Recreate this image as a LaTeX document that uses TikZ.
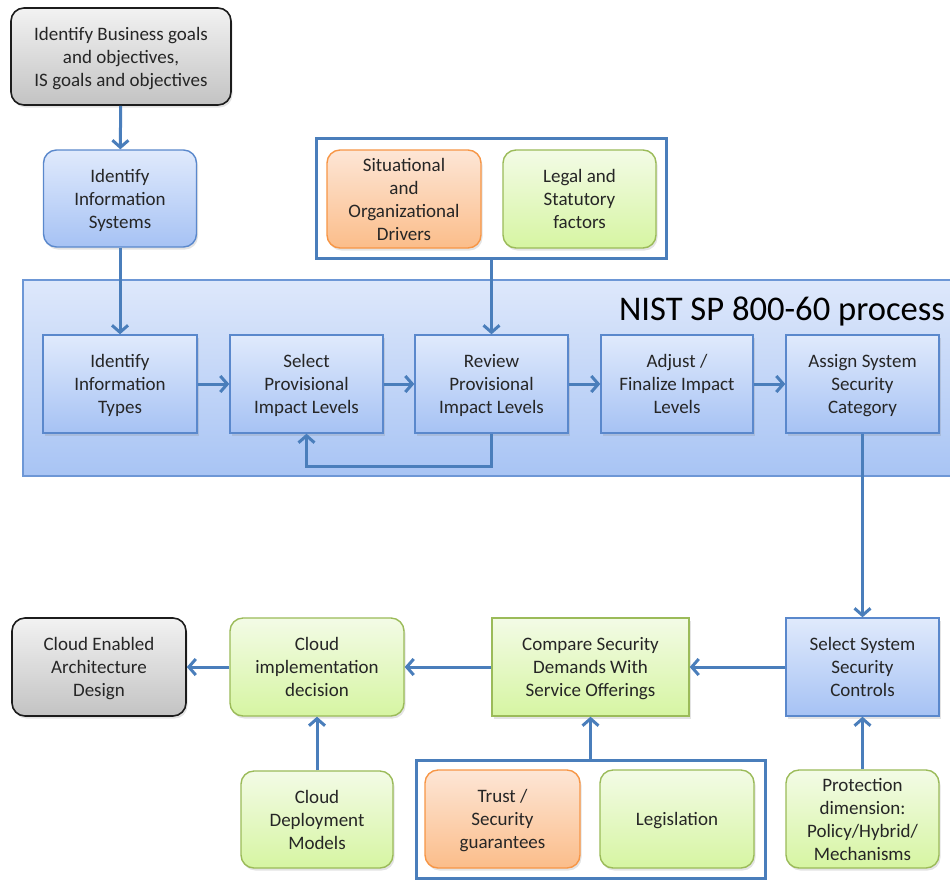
\documentclass[tikz,border=0pt]{standalone}
\usepackage{fontspec}
\setmainfont{Carlito}
\usetikzlibrary{arrows.meta,shadows}

\definecolor{txt}{HTML}{262626}
\definecolor{flowc}{HTML}{4A7EBB}
\definecolor{grayT}{HTML}{F2F2F2}
\definecolor{grayB}{HTML}{C3C3C3}
\definecolor{grayD}{HTML}{1C1C1C}
\definecolor{blueT}{HTML}{E0EAFC}
\definecolor{blueB}{HTML}{A6C2F4}
\definecolor{blueD}{HTML}{5A88CC}
\definecolor{orT}{HTML}{FDE6D6}
\definecolor{orB}{HTML}{FBBD8A}
\definecolor{orD}{HTML}{F79646}
\definecolor{grT}{HTML}{F3FBE6}
\definecolor{grB}{HTML}{D6F5A2}
\definecolor{grD}{HTML}{9BBB59}
\definecolor{bandT}{HTML}{DEE8FB}
\definecolor{bandB}{HTML}{A8C4F4}
\definecolor{bandD}{HTML}{6D97D6}

\tikzset{
  box/.style={inner sep=0pt,
    drop shadow={opacity=0.22, shadow xshift=1.5pt, shadow yshift=-2.5pt}},
  boxtext/.style={inner sep=0pt, text=txt, font=\fontsize{19}{23}\selectfont},
  graybox/.style={box, draw=grayD, line width=1.6pt, rounded corners=13pt,
    top color=grayT, bottom color=grayB},
  bluebox/.style={box, draw=blueD, line width=1.4pt, top color=blueT, bottom color=blueB},
  blueround/.style={bluebox, rounded corners=13pt},
  orangebox/.style={box, draw=orD, line width=1.4pt, rounded corners=13pt,
    top color=orT, bottom color=orB},
  greenbox/.style={box, draw=grD, line width=1.4pt, top color=grT, bottom color=grB},
  greenround/.style={greenbox, rounded corners=13pt},
  frame/.style={draw=flowc, line width=3pt, fill=white, inner sep=0pt},
  flow/.style={draw=flowc, line width=3pt,
    -{Straight Barb[length=7pt,width=16pt]}},
  sz/.style 2 args={minimum width=#1pt, minimum height=#2pt}
}

% a shaded box with its caption; the caption lines are strutted rows,
% so the block of lines is centred the same way in every box
% #1 style, #2 name, #3 centre, #4 width, #5 height, #6 caption
\newcommand\flowbox[6]{%
  \node[#1, sz={#4}{#5}] (#2) at (#3) {};
  \node[boxtext] (#2-text) at ([yshift=-2.3pt]#2.center)
    {\begin{tabular}{@{}c@{}}#6\end{tabular}};
}

\begin{document}
\begin{tikzpicture}[x=1pt,y=-1pt]
\clip (0,0) rectangle (950,879);
\fill[white] (0,0) rectangle (950,879);

% NIST process band
\node[draw=bandD, line width=1.2pt, top color=bandT, bottom color=bandB,
      inner sep=0pt, sz={960}{196}] (band) at (503,378) {};
\node[anchor=base east, text=black, font=\fontsize{34.6}{40}\selectfont] (title)
      at (948.5,320) {NIST SP 800-60 process};

% top column
\flowbox{graybox}{goals}{121,56.5}{220}{97}
  {Identify Business goals\\and objectives,\\IS goals and objectives}
\flowbox{blueround}{infosys}{120,198.5}{153}{97}
  {Identify\\Information\\Systems}

% drivers group
\node[frame, sz={350}{120}] (drivers) at (491.5,198) {};
\flowbox{orangebox}{situ}{404,199}{154}{98}
  {Situational\\and\\Organizational\\Drivers}
\flowbox{greenround}{legal}{579.5,199}{153}{98}
  {Legal and\\Statutory\\factors}

% process steps
\flowbox{bluebox}{types}{120,384}{154}{98}{Identify\\Information\\Types}
\flowbox{bluebox}{select}{306.5,384}{153}{98}{Select\\Provisional\\Impact Levels}
\flowbox{bluebox}{review}{491.5,384}{153}{98}{Review\\Provisional\\Impact Levels}
\flowbox{bluebox}{adjust}{677,384}{152}{98}{Adjust /\\Finalize Impact\\Levels}
\flowbox{bluebox}{assign}{862.5,384}{153}{98}{Assign System\\Security\\Category}

% bottom row
\flowbox{bluebox}{controls}{862.5,667}{153}{98}{Select System\\Security\\Controls}
\flowbox{greenbox}{compare}{590.5,667}{197}{98}
  {Compare Security\\Demands With\\Service Offerings}
\flowbox{greenround}{impl}{317,667}{174}{98}{Cloud\\implementation\\decision}
\flowbox{graybox}{arch}{99,667}{174}{98}{Cloud Enabled\\Architecture\\Design}
\flowbox{greenround}{deploy}{317,819.5}{152}{97}{Cloud\\Deployment\\Models}

% guarantees group
\node[frame, sz={349}{118}] (offers) at (590.5,819) {};
\flowbox{orangebox}{trust}{502.5,819}{155}{98}{Trust /\\Security\\guarantees}
\flowbox{greenround}{legis}{677,819}{154}{98}{Legislation}

\flowbox{greenround}{protect}{862.5,819}{153}{98}
  {Protection\\dimension:\\Policy/Hybrid/\\Mechanisms}

% connectors
\draw[flow] (goals) -- (infosys);
\draw[flow] (infosys) -- (types);
\draw[flow] (drivers) -- (review);
\draw[flow] (types) -- (select);
\draw[flow] (select) -- (review);
\draw[flow] (review) -- (adjust);
\draw[flow] (adjust) -- (assign);
\draw[flow] (review.south) -- ++(0,33) -| (select.south);
\draw[flow] (assign) -- (controls);
\draw[flow] (controls) -- (compare);
\draw[flow] (compare) -- (impl);
\draw[flow] (impl) -- (arch);
\draw[flow] (deploy) -- (impl);
\draw[flow] (offers) -- (compare);
\draw[flow] (protect) -- (controls);
\end{tikzpicture}
\end{document}
